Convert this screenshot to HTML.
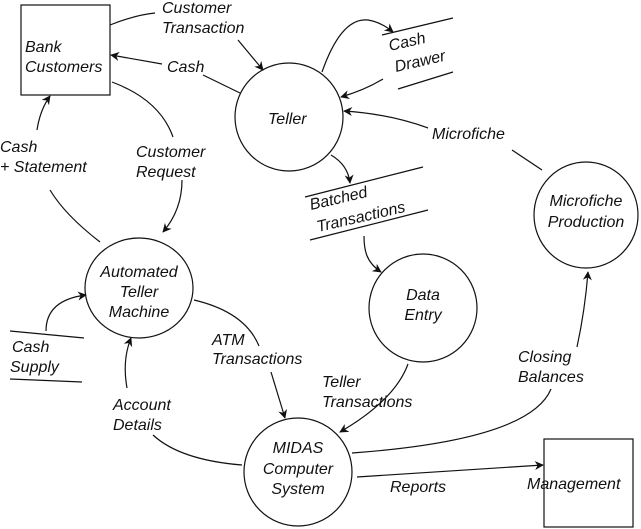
<!DOCTYPE html>
<html><head><meta charset="utf-8"><style>
html,body{margin:0;padding:0;background:#fff;}
svg{display:block;}
text{font-family:"Liberation Sans",sans-serif;font-style:italic;font-size:16px;fill:#111;}
</style></head><body>
<svg width="641" height="529" viewBox="0 0 641 529" xmlns="http://www.w3.org/2000/svg">
<defs>
<marker id="a" viewBox="0 0 10 10" refX="9" refY="5" markerWidth="9" markerHeight="9" orient="auto-start-reverse" markerUnits="userSpaceOnUse">
<path d="M0,0 L10,5 L0,10 L3,5 z" fill="#111"/>
</marker>
</defs>
<g fill="none" stroke="#111" stroke-width="1.2">
<rect x="21" y="5" width="89" height="90"/>
<rect x="544" y="439" width="89" height="88"/>
<ellipse cx="289" cy="117" rx="54" ry="54"/>
<ellipse cx="586" cy="215" rx="52" ry="53"/>
<ellipse cx="139" cy="288" rx="54" ry="50"/>
<ellipse cx="423" cy="308" rx="54" ry="54"/>
<ellipse cx="298" cy="472" rx="54" ry="54"/>
<line x1="382" y1="35" x2="453" y2="18"/>
<line x1="398" y1="89" x2="453" y2="72"/>
<line x1="305" y1="197" x2="423" y2="167"/>
<line x1="310" y1="240" x2="428" y2="210"/>
<line x1="10" y1="331" x2="84" y2="338"/>
<line x1="10" y1="379" x2="82" y2="382"/>
<path d="M110,25 Q135,15 155,13"/>
<path d="M238,40 L263,70" marker-end="url(#a)"/>
<path d="M240,93 L203,75"/>
<path d="M162,64 L111,55" marker-end="url(#a)"/>
<path d="M322,72 C335,35 350,18 368,20 C380,22 388,28 393,32" marker-end="url(#a)"/>
<path d="M383,79 Q365,90 341,97" marker-end="url(#a)"/>
<path d="M542,170 L512,150"/>
<path d="M428,128 Q390,114 344,111" marker-end="url(#a)"/>
<path d="M331,155 Q348,165 350,183" marker-end="url(#a)"/>
<path d="M364,236 C364,250 366,262 381,272" marker-end="url(#a)"/>
<path d="M112,82 Q160,100 173,137"/>
<path d="M182,180 Q182,210 163,232" marker-end="url(#a)"/>
<path d="M100,242 Q65,215 50,190"/>
<path d="M37,130 Q40,110 50,96" marker-end="url(#a)"/>
<path d="M46,331 Q46,300 86,295" marker-end="url(#a)"/>
<path d="M194,300 Q245,312 259,346"/>
<path d="M271,372 L285,418" marker-end="url(#a)"/>
<path d="M242,465 Q180,460 153,435"/>
<path d="M127,388 Q122,360 131,338" marker-end="url(#a)"/>
<path d="M408,364 Q395,400 340,432" marker-end="url(#a)"/>
<path d="M352,453 Q530,440 551,389"/>
<path d="M577,347 Q585,310 588,272" marker-end="url(#a)"/>
<path d="M357,477 L543,465" marker-end="url(#a)"/>
</g>
<text x="25" y="52">Bank</text>
<text x="25" y="72">Customers</text>
<text x="162" y="13">Customer</text>
<text x="162" y="33">Transaction</text>
<text x="167" y="72">Cash</text>
<text x="268" y="124">Teller</text>
<text x="390" y="51" transform="rotate(-13 390 51)">Cash</text>
<text x="396" y="72" transform="rotate(-13 396 72)">Drawer</text>
<text x="432" y="139">Microfiche</text>
<text x="0" y="152">Cash</text>
<text x="0" y="172">+ Statement</text>
<text x="136" y="157">Customer</text>
<text x="136" y="177">Request</text>
<text x="311" y="210" transform="rotate(-13 311 210)">Batched</text>
<text x="318" y="232" transform="rotate(-13 318 232)">Transactions</text>
<text x="586" y="206" text-anchor="middle">Microfiche</text>
<text x="586" y="227" text-anchor="middle">Production</text>
<text x="139" y="277" text-anchor="middle">Automated</text>
<text x="139" y="297" text-anchor="middle">Teller</text>
<text x="139" y="317" text-anchor="middle">Machine</text>
<text x="423" y="300" text-anchor="middle">Data</text>
<text x="423" y="320" text-anchor="middle">Entry</text>
<text x="12" y="352">Cash</text>
<text x="10" y="372">Supply</text>
<text x="212" y="345">ATM</text>
<text x="212" y="364">Transactions</text>
<text x="322" y="387">Teller</text>
<text x="322" y="407">Transactions</text>
<text x="518" y="362">Closing</text>
<text x="518" y="382">Balances</text>
<text x="113" y="410">Account</text>
<text x="113" y="430">Details</text>
<text x="298" y="453" text-anchor="middle">MIDAS</text>
<text x="298" y="474" text-anchor="middle">Computer</text>
<text x="298" y="494" text-anchor="middle">System</text>
<text x="390" y="492">Reports</text>
<text x="527" y="489">Management</text>
</svg>
</body></html>
